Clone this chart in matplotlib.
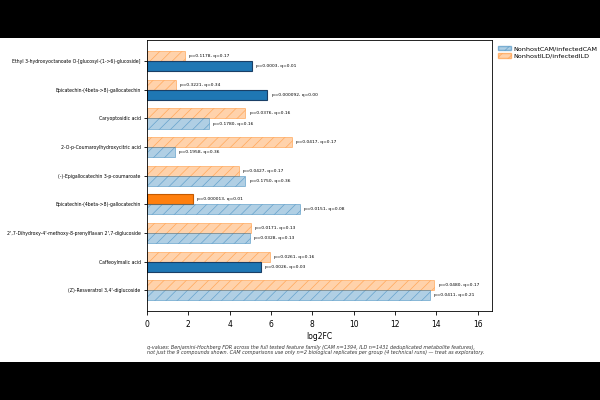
import matplotlib.pyplot as plt
from matplotlib.patches import Patch, Rectangle
from matplotlib.colors import to_rgb
import numpy as np

compounds = [
    "Ethyl 3-hydroxyoctanoate O-[glucosyl-(1->6)-glucoside]",
    "Epicatechin-(4beta->8)-gallocatechin",
    "Caryoptosidic acid",
    "2-O-p-Coumaroylhydroxycitric acid",
    "(-)-Epigallocatechin 3-p-coumaroate",
    "Epicatechin-(4beta->8)-gallocatechin",
    "2',7-Dihydroxy-4'-methoxy-8-prenylflavan 2',7-diglucoside",
    "Caffeoylmalic acid",
    "(Z)-Resveratrol 3,4'-diglucoside",
]
cam_fc = [5.06, 5.83, 2.99, 1.35, 4.76, 7.40, 4.98, 5.51, 13.67]
ild_fc = [1.83, 1.40, 4.76, 7.00, 4.45, 2.23, 5.04, 5.96, 13.91]
cam_sig = [True, True, False, False, False, False, False, True, False]
ild_sig = [False, False, False, False, False, True, False, False, False]
cam_lbl = ["p=0.0003, q=0.01", "p=0.000092, q=0.00", "p=0.1780, q=0.16",
           "p=0.1958, q=0.36", "p=0.1750, q=0.36", "p=0.0151, q=0.08",
           "p=0.0328, q=0.13", "p=0.0026, q=0.03", "p=0.0411, q=0.21"]
ild_lbl = ["p=0.1178, q=0.17", "p=0.3221, q=0.34", "p=0.0376, q=0.16",
           "p=0.0417, q=0.17", "p=0.0427, q=0.17", "p=0.000013, q=0.01",
           "p=0.0171, q=0.13", "p=0.0261, q=0.16", "p=0.0480, q=0.17"]

blue = '#1f77b4'
orange = '#ff7f0e'
plt.rcParams['hatch.color'] = '#666666'
plt.rcParams['hatch.linewidth'] = 0.5


def light(c, a=0.35):
    return (*to_rgb(c), a)


fig = plt.figure(figsize=(6, 4), dpi=100, facecolor='black')
fig.patches.append(Rectangle((0, 38 / 400), 1, 324 / 400, transform=fig.transFigure,
                             facecolor='white', edgecolor='none', zorder=-10))
ax = fig.add_axes([0.245, 0.2225, 0.575, 0.6775])

y = np.arange(len(compounds))
h = 0.35


def draw(vals, sigs, labels, color, dark, off):
    for yi, v, s, lb in zip(y, vals, sigs, labels):
        if s:
            ax.barh(yi + off, v, height=h, color=color, edgecolor=dark, linewidth=0.8)
        else:
            ax.barh(yi + off, v, height=h, facecolor=light(color),
                    edgecolor=light(color, 0.5), hatch='///', linewidth=0.6)
        ax.text(v + 0.2, yi + off, lb, fontsize=3.2, va='center', ha='left')


draw(ild_fc, ild_sig, ild_lbl, orange, '#c45a00', -h / 2)
draw(cam_fc, cam_sig, cam_lbl, blue, '#1a3f66', h / 2)

ax.set_yticks(y)
ax.set_yticklabels(compounds, fontsize=3.35)
ax.set_ylim(8.72, -0.74)
ax.set_xlim(0, max(max(cam_fc), max(ild_fc)) * 1.2)
ax.set_xticks(range(0, 17, 2))
ax.tick_params(axis='x', labelsize=5.5, length=3, width=0.6)
ax.tick_params(axis='y', length=2.5, width=0.6, pad=2)
for sp in ax.spines.values():
    sp.set_linewidth(0.6)
ax.set_xlabel('log2FC', fontsize=5.5, labelpad=2)

handles = [Patch(facecolor=light(blue), edgecolor=light(blue, 0.5), hatch='///', label='NonhostCAM/infectedCAM'),
           Patch(facecolor=light(orange), edgecolor=light(orange, 0.5), hatch='///', label='NonhostILD/infectedILD')]
ax.legend(handles=handles, loc='upper left', bbox_to_anchor=(1.0, 1.0), frameon=False,
          fontsize=4.6, handlelength=2.0, handleheight=0.7, handletextpad=0.5, labelspacing=0.3)

fig.text(0.245, 0.125,
         "q-values: Benjamini-Hochberg FDR across the full tested feature family (CAM n=1394, ILD n=1431 deduplicated metabolite features),\n"
         "not just the 9 compounds shown. CAM comparisons use only n=2 biological replicates per group (4 technical runs) \u2014 treat as exploratory.",
         fontsize=3.5, style='italic', va='center', ha='left', color='#333333')

fig.savefig('out.png', dpi=100, facecolor='black')
